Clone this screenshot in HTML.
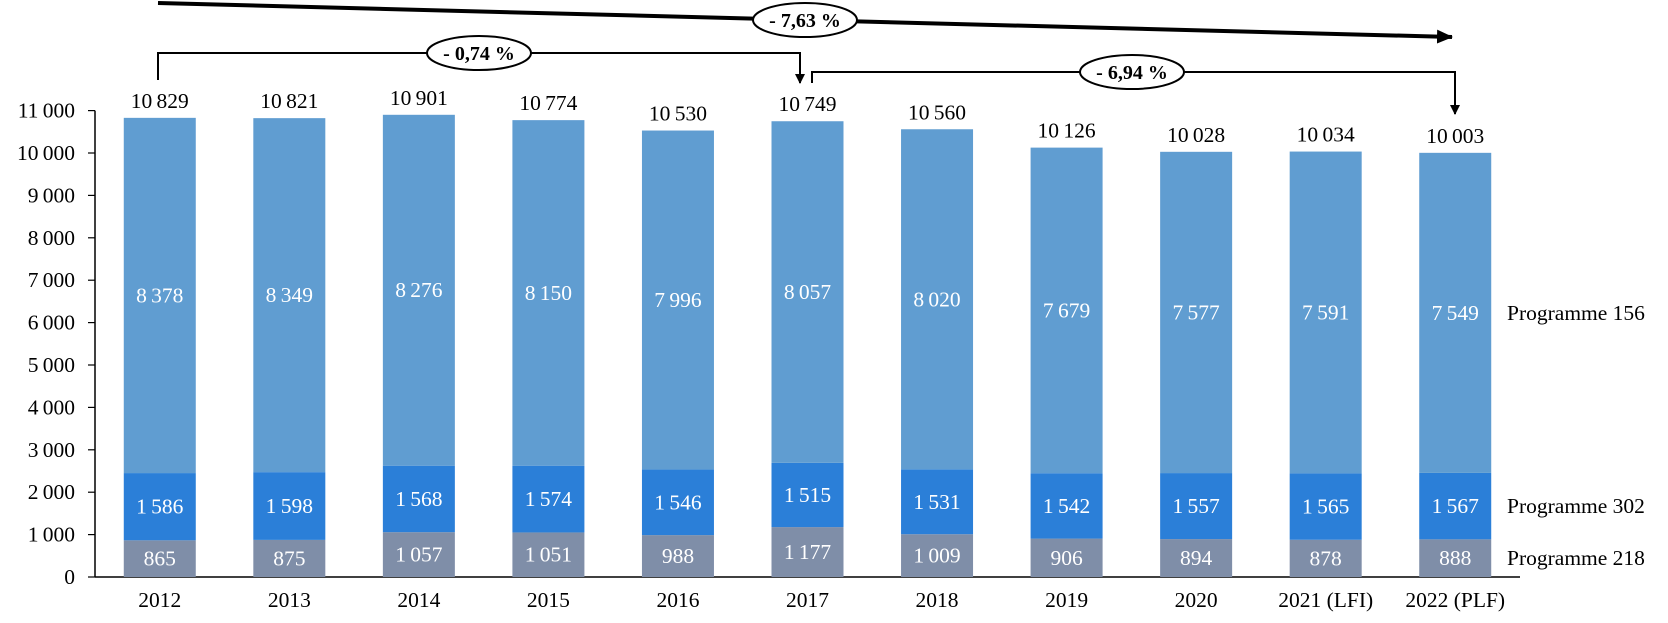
<!DOCTYPE html>
<html><head><meta charset="utf-8"><style>
html,body{margin:0;padding:0;background:#fff;}
svg{display:block;font-family:"Liberation Serif",serif;}
</style></head><body>
<svg id="chart" width="1668" height="623" viewBox="0 0 1668 623" xmlns="http://www.w3.org/2000/svg"></svg>
<script>
const categories = ["2012","2013","2014","2015","2016","2017","2018","2019","2020","2021 (LFI)","2022 (PLF)"];
const prog218 = [865,875,1057,1051,988,1177,1009,906,894,878,888];
const prog302 = [1586,1598,1568,1574,1546,1515,1531,1542,1557,1565,1567];
const prog156 = [8378,8349,8276,8150,7996,8057,8020,7679,7577,7591,7549];
const totals = [10829,10821,10901,10774,10530,10749,10560,10126,10028,10034,10003];
const yTicks = [0,1000,2000,3000,4000,5000,6000,7000,8000,9000,10000,11000];
const seriesNames = ["Programme 218","Programme 302","Programme 156"];

const NS="http://www.w3.org/2000/svg";
const svg=document.getElementById('chart');
const x0=95, x1=1520, y0=577, pxPer=42.4/1000;
const FS=21.5;
const band=(x1-x0)/categories.length, barW=72;
function y(v){return y0 - v*pxPer;}
function xc(i){return x0 + band*(i+0.5);}
function fmt(v){const s=String(v);return s.length>3? s.slice(0,-3)+"\u2009"+s.slice(-3):s;}
function el(tag,attrs,parent){const e=document.createElementNS(NS,tag);for(const k in attrs)e.setAttribute(k,attrs[k]);(parent||svg).appendChild(e);return e;}

const ax=el('line',{x1:x0,y1:y(0),x2:x1,y2:y(0),stroke:'#000','stroke-width':1.5});


const ay=el('line',{x1:x0,y1:y(0),x2:x0,y2:y(11000),stroke:'#000','stroke-width':1.5});


yTicks.forEach(t=>{
  const tk=el('line',{x1:x0-7,y1:y(t),x2:x0,y2:y(t),stroke:'#000','stroke-width':1.2});
  
  
  const tl=el('text',{x:x0-20,y:y(t)+7,'text-anchor':'end','font-size':FS,fill:'#000'});
  tl.textContent=t===0?"0":fmt(t);
  
  
});

const colors=['#7f8ea8','#2b7fd8','#609dd1'];
const series=[prog218,prog302,prog156];
categories.forEach((c,i)=>{
  let base=0;
  series.forEach((s,k)=>{
    const r=el('rect',{x:xc(i)-barW/2,y:y(base+s[i]),width:barW,height:s[i]*pxPer,fill:colors[k]});
    
    
    const t=el('text',{x:xc(i),y:y(base+s[i]/2)+7,'text-anchor':'middle','font-size':FS,fill:'#fff'});
    t.textContent=fmt(s[i]);
    
    
    base+=s[i];
  });
  const tt=el('text',{x:xc(i),y:y(totals[i])-10,'text-anchor':'middle','font-size':FS,fill:'#000'});
  tt.textContent=fmt(totals[i]);
  
  
  const xl=el('text',{x:xc(i),y:y(0)+30,'text-anchor':'middle','font-size':FS,fill:'#000'});
  xl.textContent=c;
  
  
});

const lblY=[y(prog218[10]/2), y(prog218[10]+prog302[10]/2), y(prog218[10]+prog302[10]+prog156[10]/2)];
seriesNames.forEach((n,k)=>{
  const t=el('text',{x:1507,y:lblY[k]+7,'font-size':FS,fill:'#000'});
  t.textContent=n;
  
  
});

const defs=el('defs',{});
const mk=el('marker',{id:'ah',markerWidth:10,markerHeight:10,refX:9,refY:5,orient:'auto',markerUnits:'userSpaceOnUse'},defs);
el('path',{d:'M0,0 L10,5 L0,10 z',fill:'#000'},mk);
const mk2=el('marker',{id:'ah2',markerWidth:16,markerHeight:14,refX:15,refY:7,orient:'auto',markerUnits:'userSpaceOnUse'},defs);
el('path',{d:'M0,0 L16,7 L0,14 z',fill:'#000'},mk2);

const big=el('line',{x1:158,y1:3,x2:1452,y2:37,stroke:'#000','stroke-width':4,'marker-end':'url(#ah2)'});


const b1=el('path',{d:'M158,80 L158,53 L800,53 L800,83',fill:'none',stroke:'#000','stroke-width':2,'marker-end':'url(#ah)'});


const b2=el('path',{d:'M812,83 L812,72 L1455,72 L1455,114',fill:'none',stroke:'#000','stroke-width':2,'marker-end':'url(#ah)'});



[[805,20,'- 7,63 %','badge-overall'],[479,53,'- 0,74 %','badge-2012-2017'],[1132,72,'- 6,94 %','badge-2017-2022']].forEach(b=>{
  const g=el('g',{});
  
  
  el('ellipse',{cx:b[0],cy:b[1],rx:52,ry:17,fill:'#fff',stroke:'#000','stroke-width':2},g);
  const t=el('text',{x:b[0],y:b[1]+7,'text-anchor':'middle','font-size':20,'font-weight':'bold',fill:'#000'},g);
  t.textContent=b[2];
});
</script>
</body></html>
